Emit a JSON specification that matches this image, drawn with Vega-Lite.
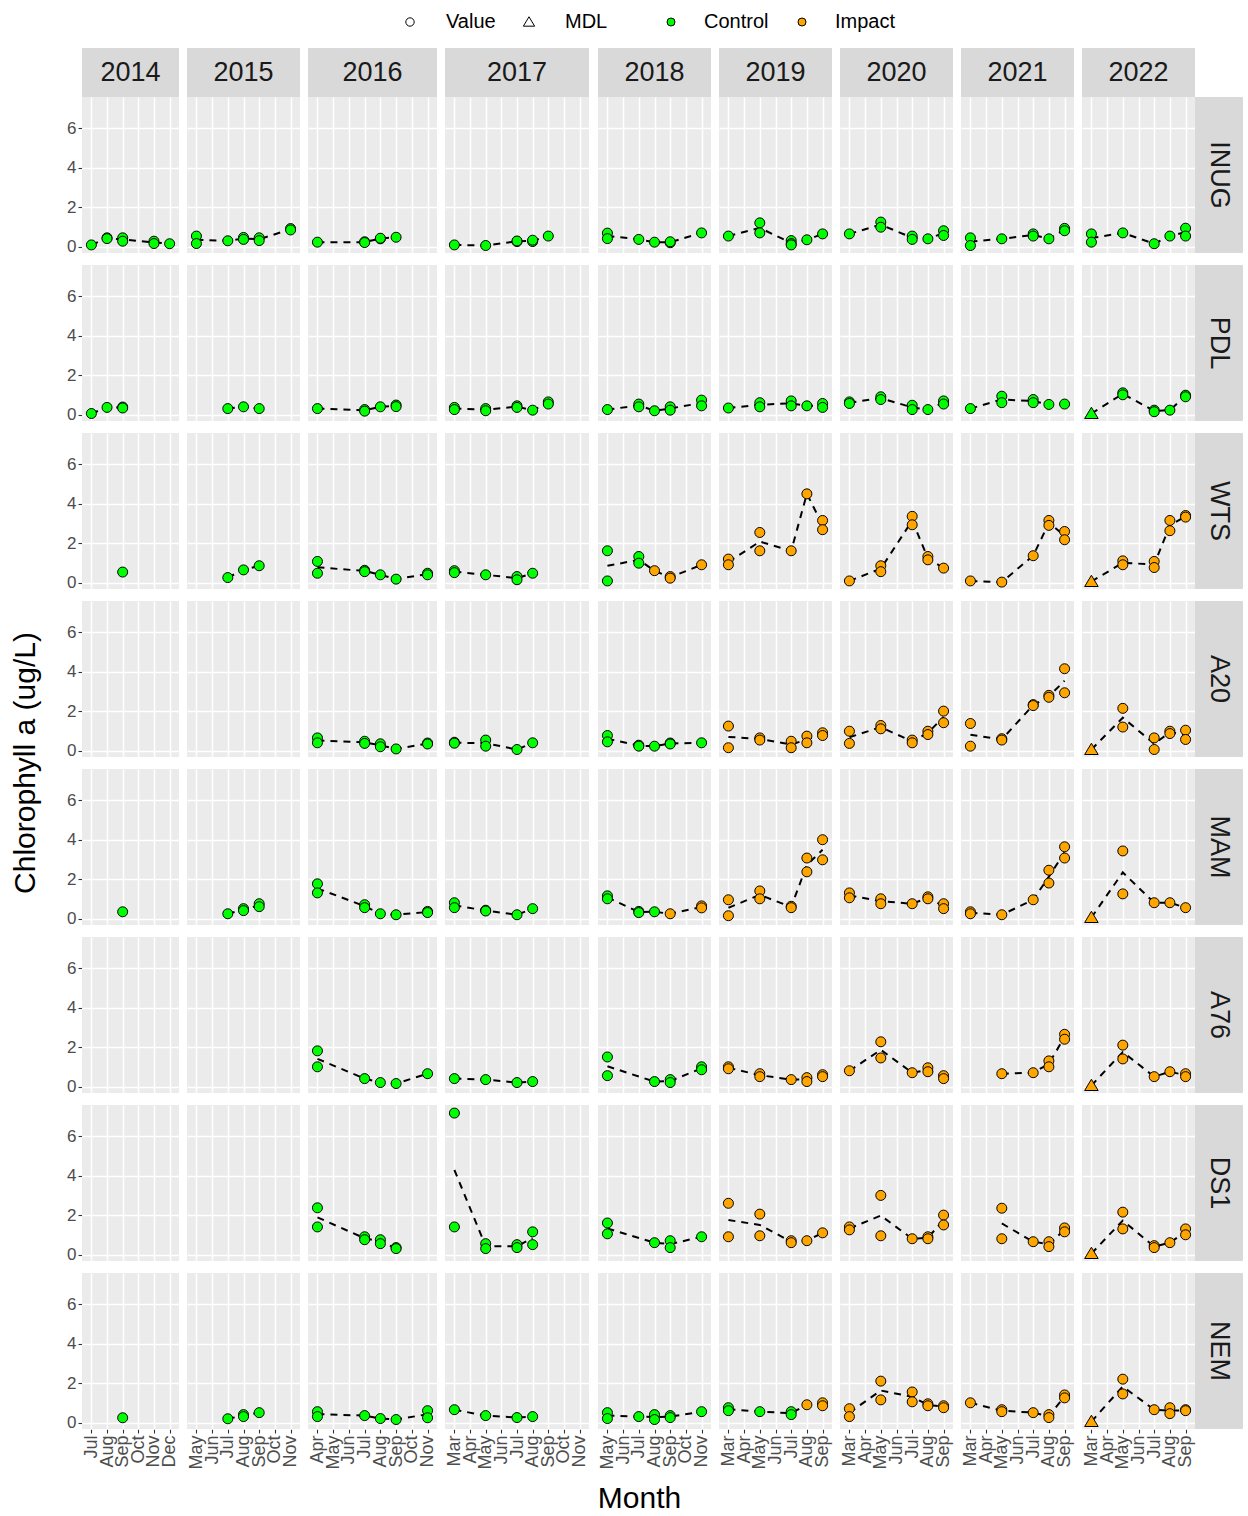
{
"$schema": "https://vega.github.io/schema/vega-lite/v6.json",
"background": "white",
"padding": {"left": 10, "top": 12, "right": 4, "bottom": 2},
"config": {
  "font": "Liberation Sans",
  "view": {"fill": "#EBEBEB", "stroke": null},
  "axis": {"domain": false, "gridColor": "#FFFFFF", "gridWidth": 1.5, "gridOpacity": 1, "tickColor": "#333333", "tickSize": 4, "tickWidth": 1.1, "labelFontSize": 17, "labelColor": "#4D4D4D", "labelPadding": 2},
  "axisX": {"labelFontSize": 18},
  "legend": {"labelFontSize": 20, "labelColor": "black", "symbolStrokeColor": "black", "symbolStrokeWidth": 1, "symbolSize": 64, "direction": "horizontal", "columnPadding": 23, "labelOffset": 26}
},
"datasets": {
"sites": [{"site":"INUG"},{"site":"PDL"},{"site":"WTS"},{"site":"A20"},{"site":"MAM"},{"site":"A76"},{"site":"DS1"},{"site":"NEM"}],
"chl": [
{"site":"INUG","year":2014,"month":7,"chl":0.08,"group":"Control","type":"Value"},
{"site":"INUG","year":2014,"month":8,"chl":0.44,"group":"Control","type":"Value"},
{"site":"INUG","year":2014,"month":8,"chl":0.40,"group":"Control","type":"Value"},
{"site":"INUG","year":2014,"month":9,"chl":0.44,"group":"Control","type":"Value"},
{"site":"INUG","year":2014,"month":9,"chl":0.27,"group":"Control","type":"Value"},
{"site":"INUG","year":2014,"month":11,"chl":0.27,"group":"Control","type":"Value"},
{"site":"INUG","year":2014,"month":11,"chl":0.15,"group":"Control","type":"Value"},
{"site":"INUG","year":2014,"month":12,"chl":0.14,"group":"Control","type":"Value"},
{"site":"INUG","year":2015,"month":5,"chl":0.53,"group":"Control","type":"Value"},
{"site":"INUG","year":2015,"month":5,"chl":0.15,"group":"Control","type":"Value"},
{"site":"INUG","year":2015,"month":7,"chl":0.29,"group":"Control","type":"Value"},
{"site":"INUG","year":2015,"month":8,"chl":0.46,"group":"Control","type":"Value"},
{"site":"INUG","year":2015,"month":8,"chl":0.36,"group":"Control","type":"Value"},
{"site":"INUG","year":2015,"month":9,"chl":0.44,"group":"Control","type":"Value"},
{"site":"INUG","year":2015,"month":9,"chl":0.30,"group":"Control","type":"Value"},
{"site":"INUG","year":2015,"month":11,"chl":0.91,"group":"Control","type":"Value"},
{"site":"INUG","year":2015,"month":11,"chl":0.84,"group":"Control","type":"Value"},
{"site":"INUG","year":2016,"month":4,"chl":0.22,"group":"Control","type":"Value"},
{"site":"INUG","year":2016,"month":7,"chl":0.24,"group":"Control","type":"Value"},
{"site":"INUG","year":2016,"month":7,"chl":0.20,"group":"Control","type":"Value"},
{"site":"INUG","year":2016,"month":8,"chl":0.39,"group":"Control","type":"Value"},
{"site":"INUG","year":2016,"month":8,"chl":0.42,"group":"Control","type":"Value"},
{"site":"INUG","year":2016,"month":9,"chl":0.47,"group":"Control","type":"Value"},
{"site":"INUG","year":2017,"month":3,"chl":0.08,"group":"Control","type":"Value"},
{"site":"INUG","year":2017,"month":5,"chl":0.05,"group":"Control","type":"Value"},
{"site":"INUG","year":2017,"month":7,"chl":0.25,"group":"Control","type":"Value"},
{"site":"INUG","year":2017,"month":7,"chl":0.28,"group":"Control","type":"Value"},
{"site":"INUG","year":2017,"month":8,"chl":0.25,"group":"Control","type":"Value"},
{"site":"INUG","year":2017,"month":8,"chl":0.32,"group":"Control","type":"Value"},
{"site":"INUG","year":2017,"month":9,"chl":0.53,"group":"Control","type":"Value"},
{"site":"INUG","year":2018,"month":5,"chl":0.68,"group":"Control","type":"Value"},
{"site":"INUG","year":2018,"month":5,"chl":0.40,"group":"Control","type":"Value"},
{"site":"INUG","year":2018,"month":7,"chl":0.36,"group":"Control","type":"Value"},
{"site":"INUG","year":2018,"month":8,"chl":0.22,"group":"Control","type":"Value"},
{"site":"INUG","year":2018,"month":9,"chl":0.19,"group":"Control","type":"Value"},
{"site":"INUG","year":2018,"month":9,"chl":0.24,"group":"Control","type":"Value"},
{"site":"INUG","year":2018,"month":11,"chl":0.69,"group":"Control","type":"Value"},
{"site":"INUG","year":2019,"month":3,"chl":0.53,"group":"Control","type":"Value"},
{"site":"INUG","year":2019,"month":5,"chl":1.20,"group":"Control","type":"Value"},
{"site":"INUG","year":2019,"month":5,"chl":0.69,"group":"Control","type":"Value"},
{"site":"INUG","year":2019,"month":7,"chl":0.30,"group":"Control","type":"Value"},
{"site":"INUG","year":2019,"month":7,"chl":0.15,"group":"Control","type":"Value"},
{"site":"INUG","year":2019,"month":7,"chl":0.08,"group":"Control","type":"Value"},
{"site":"INUG","year":2019,"month":8,"chl":0.34,"group":"Control","type":"Value"},
{"site":"INUG","year":2019,"month":9,"chl":0.64,"group":"Control","type":"Value"},
{"site":"INUG","year":2020,"month":3,"chl":0.64,"group":"Control","type":"Value"},
{"site":"INUG","year":2020,"month":5,"chl":1.24,"group":"Control","type":"Value"},
{"site":"INUG","year":2020,"month":5,"chl":0.98,"group":"Control","type":"Value"},
{"site":"INUG","year":2020,"month":7,"chl":0.53,"group":"Control","type":"Value"},
{"site":"INUG","year":2020,"month":7,"chl":0.36,"group":"Control","type":"Value"},
{"site":"INUG","year":2020,"month":8,"chl":0.39,"group":"Control","type":"Value"},
{"site":"INUG","year":2020,"month":9,"chl":0.80,"group":"Control","type":"Value"},
{"site":"INUG","year":2020,"month":9,"chl":0.56,"group":"Control","type":"Value"},
{"site":"INUG","year":2021,"month":3,"chl":0.44,"group":"Control","type":"Value"},
{"site":"INUG","year":2021,"month":3,"chl":0.05,"group":"Control","type":"Value"},
{"site":"INUG","year":2021,"month":5,"chl":0.39,"group":"Control","type":"Value"},
{"site":"INUG","year":2021,"month":7,"chl":0.64,"group":"Control","type":"Value"},
{"site":"INUG","year":2021,"month":7,"chl":0.53,"group":"Control","type":"Value"},
{"site":"INUG","year":2021,"month":8,"chl":0.39,"group":"Control","type":"Value"},
{"site":"INUG","year":2021,"month":9,"chl":0.92,"group":"Control","type":"Value"},
{"site":"INUG","year":2021,"month":9,"chl":0.80,"group":"Control","type":"Value"},
{"site":"INUG","year":2022,"month":3,"chl":0.64,"group":"Control","type":"Value"},
{"site":"INUG","year":2022,"month":3,"chl":0.22,"group":"Control","type":"Value"},
{"site":"INUG","year":2022,"month":5,"chl":0.69,"group":"Control","type":"Value"},
{"site":"INUG","year":2022,"month":7,"chl":0.14,"group":"Control","type":"Value"},
{"site":"INUG","year":2022,"month":8,"chl":0.53,"group":"Control","type":"Value"},
{"site":"INUG","year":2022,"month":9,"chl":0.93,"group":"Control","type":"Value"},
{"site":"INUG","year":2022,"month":9,"chl":0.53,"group":"Control","type":"Value"},
{"site":"PDL","year":2014,"month":7,"chl":0.05,"group":"Control","type":"Value"},
{"site":"PDL","year":2014,"month":8,"chl":0.36,"group":"Control","type":"Value"},
{"site":"PDL","year":2014,"month":9,"chl":0.38,"group":"Control","type":"Value"},
{"site":"PDL","year":2014,"month":9,"chl":0.33,"group":"Control","type":"Value"},
{"site":"PDL","year":2015,"month":7,"chl":0.30,"group":"Control","type":"Value"},
{"site":"PDL","year":2015,"month":8,"chl":0.39,"group":"Control","type":"Value"},
{"site":"PDL","year":2015,"month":9,"chl":0.30,"group":"Control","type":"Value"},
{"site":"PDL","year":2016,"month":4,"chl":0.30,"group":"Control","type":"Value"},
{"site":"PDL","year":2016,"month":7,"chl":0.25,"group":"Control","type":"Value"},
{"site":"PDL","year":2016,"month":7,"chl":0.17,"group":"Control","type":"Value"},
{"site":"PDL","year":2016,"month":8,"chl":0.39,"group":"Control","type":"Value"},
{"site":"PDL","year":2016,"month":9,"chl":0.48,"group":"Control","type":"Value"},
{"site":"PDL","year":2016,"month":9,"chl":0.40,"group":"Control","type":"Value"},
{"site":"PDL","year":2017,"month":3,"chl":0.36,"group":"Control","type":"Value"},
{"site":"PDL","year":2017,"month":3,"chl":0.25,"group":"Control","type":"Value"},
{"site":"PDL","year":2017,"month":5,"chl":0.30,"group":"Control","type":"Value"},
{"site":"PDL","year":2017,"month":5,"chl":0.19,"group":"Control","type":"Value"},
{"site":"PDL","year":2017,"month":7,"chl":0.44,"group":"Control","type":"Value"},
{"site":"PDL","year":2017,"month":7,"chl":0.36,"group":"Control","type":"Value"},
{"site":"PDL","year":2017,"month":8,"chl":0.22,"group":"Control","type":"Value"},
{"site":"PDL","year":2017,"month":9,"chl":0.64,"group":"Control","type":"Value"},
{"site":"PDL","year":2017,"month":9,"chl":0.53,"group":"Control","type":"Value"},
{"site":"PDL","year":2018,"month":5,"chl":0.25,"group":"Control","type":"Value"},
{"site":"PDL","year":2018,"month":7,"chl":0.53,"group":"Control","type":"Value"},
{"site":"PDL","year":2018,"month":7,"chl":0.39,"group":"Control","type":"Value"},
{"site":"PDL","year":2018,"month":8,"chl":0.19,"group":"Control","type":"Value"},
{"site":"PDL","year":2018,"month":9,"chl":0.39,"group":"Control","type":"Value"},
{"site":"PDL","year":2018,"month":9,"chl":0.22,"group":"Control","type":"Value"},
{"site":"PDL","year":2018,"month":11,"chl":0.73,"group":"Control","type":"Value"},
{"site":"PDL","year":2018,"month":11,"chl":0.44,"group":"Control","type":"Value"},
{"site":"PDL","year":2019,"month":3,"chl":0.33,"group":"Control","type":"Value"},
{"site":"PDL","year":2019,"month":5,"chl":0.60,"group":"Control","type":"Value"},
{"site":"PDL","year":2019,"month":5,"chl":0.39,"group":"Control","type":"Value"},
{"site":"PDL","year":2019,"month":7,"chl":0.69,"group":"Control","type":"Value"},
{"site":"PDL","year":2019,"month":7,"chl":0.44,"group":"Control","type":"Value"},
{"site":"PDL","year":2019,"month":8,"chl":0.44,"group":"Control","type":"Value"},
{"site":"PDL","year":2019,"month":9,"chl":0.56,"group":"Control","type":"Value"},
{"site":"PDL","year":2019,"month":9,"chl":0.36,"group":"Control","type":"Value"},
{"site":"PDL","year":2020,"month":3,"chl":0.64,"group":"Control","type":"Value"},
{"site":"PDL","year":2020,"month":3,"chl":0.56,"group":"Control","type":"Value"},
{"site":"PDL","year":2020,"month":5,"chl":0.90,"group":"Control","type":"Value"},
{"site":"PDL","year":2020,"month":5,"chl":0.76,"group":"Control","type":"Value"},
{"site":"PDL","year":2020,"month":7,"chl":0.47,"group":"Control","type":"Value"},
{"site":"PDL","year":2020,"month":7,"chl":0.25,"group":"Control","type":"Value"},
{"site":"PDL","year":2020,"month":8,"chl":0.25,"group":"Control","type":"Value"},
{"site":"PDL","year":2020,"month":9,"chl":0.69,"group":"Control","type":"Value"},
{"site":"PDL","year":2020,"month":9,"chl":0.53,"group":"Control","type":"Value"},
{"site":"PDL","year":2021,"month":3,"chl":0.30,"group":"Control","type":"Value"},
{"site":"PDL","year":2021,"month":5,"chl":0.93,"group":"Control","type":"Value"},
{"site":"PDL","year":2021,"month":5,"chl":0.60,"group":"Control","type":"Value"},
{"site":"PDL","year":2021,"month":7,"chl":0.76,"group":"Control","type":"Value"},
{"site":"PDL","year":2021,"month":7,"chl":0.60,"group":"Control","type":"Value"},
{"site":"PDL","year":2021,"month":8,"chl":0.51,"group":"Control","type":"Value"},
{"site":"PDL","year":2021,"month":9,"chl":0.53,"group":"Control","type":"Value"},
{"site":"PDL","year":2022,"month":3,"chl":0.05,"group":"Control","type":"MDL"},
{"site":"PDL","year":2022,"month":5,"chl":1.10,"group":"Control","type":"Value"},
{"site":"PDL","year":2022,"month":5,"chl":1.00,"group":"Control","type":"Value"},
{"site":"PDL","year":2022,"month":7,"chl":0.22,"group":"Control","type":"Value"},
{"site":"PDL","year":2022,"month":7,"chl":0.14,"group":"Control","type":"Value"},
{"site":"PDL","year":2022,"month":8,"chl":0.22,"group":"Control","type":"Value"},
{"site":"PDL","year":2022,"month":9,"chl":0.98,"group":"Control","type":"Value"},
{"site":"PDL","year":2022,"month":9,"chl":0.90,"group":"Control","type":"Value"},
{"site":"WTS","year":2014,"month":9,"chl":0.53,"group":"Control","type":"Value"},
{"site":"WTS","year":2015,"month":7,"chl":0.25,"group":"Control","type":"Value"},
{"site":"WTS","year":2015,"month":8,"chl":0.64,"group":"Control","type":"Value"},
{"site":"WTS","year":2015,"month":9,"chl":0.85,"group":"Control","type":"Value"},
{"site":"WTS","year":2016,"month":4,"chl":1.07,"group":"Control","type":"Value"},
{"site":"WTS","year":2016,"month":4,"chl":0.47,"group":"Control","type":"Value"},
{"site":"WTS","year":2016,"month":7,"chl":0.62,"group":"Control","type":"Value"},
{"site":"WTS","year":2016,"month":7,"chl":0.55,"group":"Control","type":"Value"},
{"site":"WTS","year":2016,"month":8,"chl":0.39,"group":"Control","type":"Value"},
{"site":"WTS","year":2016,"month":9,"chl":0.17,"group":"Control","type":"Value"},
{"site":"WTS","year":2016,"month":11,"chl":0.47,"group":"Control","type":"Value"},
{"site":"WTS","year":2016,"month":11,"chl":0.39,"group":"Control","type":"Value"},
{"site":"WTS","year":2017,"month":3,"chl":0.60,"group":"Control","type":"Value"},
{"site":"WTS","year":2017,"month":3,"chl":0.50,"group":"Control","type":"Value"},
{"site":"WTS","year":2017,"month":5,"chl":0.39,"group":"Control","type":"Value"},
{"site":"WTS","year":2017,"month":7,"chl":0.30,"group":"Control","type":"Value"},
{"site":"WTS","year":2017,"month":7,"chl":0.14,"group":"Control","type":"Value"},
{"site":"WTS","year":2017,"month":8,"chl":0.47,"group":"Control","type":"Value"},
{"site":"WTS","year":2018,"month":5,"chl":1.61,"group":"Control","type":"Value"},
{"site":"WTS","year":2018,"month":5,"chl":0.08,"group":"Control","type":"Value"},
{"site":"WTS","year":2018,"month":7,"chl":1.32,"group":"Control","type":"Value"},
{"site":"WTS","year":2018,"month":7,"chl":0.98,"group":"Control","type":"Value"},
{"site":"WTS","year":2018,"month":8,"chl":0.60,"group":"Impact","type":"Value"},
{"site":"WTS","year":2018,"month":9,"chl":0.30,"group":"Impact","type":"Value"},
{"site":"WTS","year":2018,"month":9,"chl":0.22,"group":"Impact","type":"Value"},
{"site":"WTS","year":2018,"month":11,"chl":0.90,"group":"Impact","type":"Value"},
{"site":"WTS","year":2019,"month":3,"chl":1.19,"group":"Impact","type":"Value"},
{"site":"WTS","year":2019,"month":3,"chl":0.90,"group":"Impact","type":"Value"},
{"site":"WTS","year":2019,"month":5,"chl":2.54,"group":"Impact","type":"Value"},
{"site":"WTS","year":2019,"month":5,"chl":1.61,"group":"Impact","type":"Value"},
{"site":"WTS","year":2019,"month":7,"chl":1.61,"group":"Impact","type":"Value"},
{"site":"WTS","year":2019,"month":8,"chl":4.50,"group":"Impact","type":"Value"},
{"site":"WTS","year":2019,"month":9,"chl":3.15,"group":"Impact","type":"Value"},
{"site":"WTS","year":2019,"month":9,"chl":2.68,"group":"Impact","type":"Value"},
{"site":"WTS","year":2020,"month":3,"chl":0.08,"group":"Impact","type":"Value"},
{"site":"WTS","year":2020,"month":5,"chl":0.85,"group":"Impact","type":"Value"},
{"site":"WTS","year":2020,"month":5,"chl":0.55,"group":"Impact","type":"Value"},
{"site":"WTS","year":2020,"month":7,"chl":3.36,"group":"Impact","type":"Value"},
{"site":"WTS","year":2020,"month":7,"chl":2.93,"group":"Impact","type":"Value"},
{"site":"WTS","year":2020,"month":8,"chl":1.32,"group":"Impact","type":"Value"},
{"site":"WTS","year":2020,"month":8,"chl":1.15,"group":"Impact","type":"Value"},
{"site":"WTS","year":2020,"month":9,"chl":0.73,"group":"Impact","type":"Value"},
{"site":"WTS","year":2021,"month":3,"chl":0.08,"group":"Impact","type":"Value"},
{"site":"WTS","year":2021,"month":5,"chl":0.02,"group":"Impact","type":"Value"},
{"site":"WTS","year":2021,"month":7,"chl":1.36,"group":"Impact","type":"Value"},
{"site":"WTS","year":2021,"month":8,"chl":3.15,"group":"Impact","type":"Value"},
{"site":"WTS","year":2021,"month":8,"chl":2.90,"group":"Impact","type":"Value"},
{"site":"WTS","year":2021,"month":9,"chl":2.59,"group":"Impact","type":"Value"},
{"site":"WTS","year":2021,"month":9,"chl":2.17,"group":"Impact","type":"Value"},
{"site":"WTS","year":2022,"month":3,"chl":0.05,"group":"Impact","type":"MDL"},
{"site":"WTS","year":2022,"month":5,"chl":1.10,"group":"Impact","type":"Value"},
{"site":"WTS","year":2022,"month":5,"chl":0.90,"group":"Impact","type":"Value"},
{"site":"WTS","year":2022,"month":7,"chl":1.07,"group":"Impact","type":"Value"},
{"site":"WTS","year":2022,"month":7,"chl":0.76,"group":"Impact","type":"Value"},
{"site":"WTS","year":2022,"month":8,"chl":3.15,"group":"Impact","type":"Value"},
{"site":"WTS","year":2022,"month":8,"chl":2.63,"group":"Impact","type":"Value"},
{"site":"WTS","year":2022,"month":9,"chl":3.40,"group":"Impact","type":"Value"},
{"site":"WTS","year":2022,"month":9,"chl":3.32,"group":"Impact","type":"Value"},
{"site":"A20","year":2016,"month":4,"chl":0.64,"group":"Control","type":"Value"},
{"site":"A20","year":2016,"month":4,"chl":0.39,"group":"Control","type":"Value"},
{"site":"A20","year":2016,"month":7,"chl":0.47,"group":"Control","type":"Value"},
{"site":"A20","year":2016,"month":7,"chl":0.36,"group":"Control","type":"Value"},
{"site":"A20","year":2016,"month":8,"chl":0.34,"group":"Control","type":"Value"},
{"site":"A20","year":2016,"month":8,"chl":0.19,"group":"Control","type":"Value"},
{"site":"A20","year":2016,"month":9,"chl":0.08,"group":"Control","type":"Value"},
{"site":"A20","year":2016,"month":11,"chl":0.38,"group":"Control","type":"Value"},
{"site":"A20","year":2016,"month":11,"chl":0.33,"group":"Control","type":"Value"},
{"site":"A20","year":2017,"month":3,"chl":0.42,"group":"Control","type":"Value"},
{"site":"A20","year":2017,"month":3,"chl":0.37,"group":"Control","type":"Value"},
{"site":"A20","year":2017,"month":5,"chl":0.53,"group":"Control","type":"Value"},
{"site":"A20","year":2017,"month":5,"chl":0.22,"group":"Control","type":"Value"},
{"site":"A20","year":2017,"month":7,"chl":0.05,"group":"Control","type":"Value"},
{"site":"A20","year":2017,"month":8,"chl":0.39,"group":"Control","type":"Value"},
{"site":"A20","year":2018,"month":5,"chl":0.76,"group":"Control","type":"Value"},
{"site":"A20","year":2018,"month":5,"chl":0.44,"group":"Control","type":"Value"},
{"site":"A20","year":2018,"month":7,"chl":0.27,"group":"Control","type":"Value"},
{"site":"A20","year":2018,"month":7,"chl":0.22,"group":"Control","type":"Value"},
{"site":"A20","year":2018,"month":8,"chl":0.22,"group":"Control","type":"Value"},
{"site":"A20","year":2018,"month":9,"chl":0.38,"group":"Control","type":"Value"},
{"site":"A20","year":2018,"month":9,"chl":0.33,"group":"Control","type":"Value"},
{"site":"A20","year":2018,"month":11,"chl":0.39,"group":"Control","type":"Value"},
{"site":"A20","year":2019,"month":3,"chl":1.24,"group":"Impact","type":"Value"},
{"site":"A20","year":2019,"month":3,"chl":0.14,"group":"Impact","type":"Value"},
{"site":"A20","year":2019,"month":5,"chl":0.64,"group":"Impact","type":"Value"},
{"site":"A20","year":2019,"month":5,"chl":0.53,"group":"Impact","type":"Value"},
{"site":"A20","year":2019,"month":7,"chl":0.47,"group":"Impact","type":"Value"},
{"site":"A20","year":2019,"month":7,"chl":0.14,"group":"Impact","type":"Value"},
{"site":"A20","year":2019,"month":8,"chl":0.73,"group":"Impact","type":"Value"},
{"site":"A20","year":2019,"month":8,"chl":0.39,"group":"Impact","type":"Value"},
{"site":"A20","year":2019,"month":9,"chl":0.90,"group":"Impact","type":"Value"},
{"site":"A20","year":2019,"month":9,"chl":0.76,"group":"Impact","type":"Value"},
{"site":"A20","year":2020,"month":3,"chl":0.98,"group":"Impact","type":"Value"},
{"site":"A20","year":2020,"month":3,"chl":0.36,"group":"Impact","type":"Value"},
{"site":"A20","year":2020,"month":5,"chl":1.27,"group":"Impact","type":"Value"},
{"site":"A20","year":2020,"month":5,"chl":1.10,"group":"Impact","type":"Value"},
{"site":"A20","year":2020,"month":7,"chl":0.53,"group":"Impact","type":"Value"},
{"site":"A20","year":2020,"month":7,"chl":0.39,"group":"Impact","type":"Value"},
{"site":"A20","year":2020,"month":8,"chl":0.98,"group":"Impact","type":"Value"},
{"site":"A20","year":2020,"month":8,"chl":0.81,"group":"Impact","type":"Value"},
{"site":"A20","year":2020,"month":9,"chl":2.00,"group":"Impact","type":"Value"},
{"site":"A20","year":2020,"month":9,"chl":1.41,"group":"Impact","type":"Value"},
{"site":"A20","year":2021,"month":3,"chl":1.37,"group":"Impact","type":"Value"},
{"site":"A20","year":2021,"month":3,"chl":0.22,"group":"Impact","type":"Value"},
{"site":"A20","year":2021,"month":5,"chl":0.60,"group":"Impact","type":"Value"},
{"site":"A20","year":2021,"month":5,"chl":0.53,"group":"Impact","type":"Value"},
{"site":"A20","year":2021,"month":7,"chl":2.33,"group":"Impact","type":"Value"},
{"site":"A20","year":2021,"month":7,"chl":2.28,"group":"Impact","type":"Value"},
{"site":"A20","year":2021,"month":8,"chl":2.80,"group":"Impact","type":"Value"},
{"site":"A20","year":2021,"month":8,"chl":2.70,"group":"Impact","type":"Value"},
{"site":"A20","year":2021,"month":9,"chl":4.15,"group":"Impact","type":"Value"},
{"site":"A20","year":2021,"month":9,"chl":2.93,"group":"Impact","type":"Value"},
{"site":"A20","year":2022,"month":3,"chl":0.05,"group":"Impact","type":"MDL"},
{"site":"A20","year":2022,"month":5,"chl":2.14,"group":"Impact","type":"Value"},
{"site":"A20","year":2022,"month":5,"chl":1.19,"group":"Impact","type":"Value"},
{"site":"A20","year":2022,"month":7,"chl":0.64,"group":"Impact","type":"Value"},
{"site":"A20","year":2022,"month":7,"chl":0.05,"group":"Impact","type":"Value"},
{"site":"A20","year":2022,"month":8,"chl":0.98,"group":"Impact","type":"Value"},
{"site":"A20","year":2022,"month":8,"chl":0.86,"group":"Impact","type":"Value"},
{"site":"A20","year":2022,"month":9,"chl":1.03,"group":"Impact","type":"Value"},
{"site":"A20","year":2022,"month":9,"chl":0.56,"group":"Impact","type":"Value"},
{"site":"MAM","year":2014,"month":9,"chl":0.34,"group":"Control","type":"Value"},
{"site":"MAM","year":2015,"month":7,"chl":0.24,"group":"Control","type":"Value"},
{"site":"MAM","year":2015,"month":8,"chl":0.50,"group":"Control","type":"Value"},
{"site":"MAM","year":2015,"month":8,"chl":0.40,"group":"Control","type":"Value"},
{"site":"MAM","year":2015,"month":9,"chl":0.75,"group":"Control","type":"Value"},
{"site":"MAM","year":2015,"month":9,"chl":0.60,"group":"Control","type":"Value"},
{"site":"MAM","year":2016,"month":4,"chl":1.76,"group":"Control","type":"Value"},
{"site":"MAM","year":2016,"month":4,"chl":1.30,"group":"Control","type":"Value"},
{"site":"MAM","year":2016,"month":7,"chl":0.70,"group":"Control","type":"Value"},
{"site":"MAM","year":2016,"month":7,"chl":0.55,"group":"Control","type":"Value"},
{"site":"MAM","year":2016,"month":8,"chl":0.24,"group":"Control","type":"Value"},
{"site":"MAM","year":2016,"month":9,"chl":0.19,"group":"Control","type":"Value"},
{"site":"MAM","year":2016,"month":11,"chl":0.36,"group":"Control","type":"Value"},
{"site":"MAM","year":2016,"month":11,"chl":0.30,"group":"Control","type":"Value"},
{"site":"MAM","year":2017,"month":3,"chl":0.80,"group":"Control","type":"Value"},
{"site":"MAM","year":2017,"month":3,"chl":0.55,"group":"Control","type":"Value"},
{"site":"MAM","year":2017,"month":5,"chl":0.42,"group":"Control","type":"Value"},
{"site":"MAM","year":2017,"month":5,"chl":0.38,"group":"Control","type":"Value"},
{"site":"MAM","year":2017,"month":7,"chl":0.19,"group":"Control","type":"Value"},
{"site":"MAM","year":2017,"month":8,"chl":0.50,"group":"Control","type":"Value"},
{"site":"MAM","year":2018,"month":5,"chl":1.15,"group":"Control","type":"Value"},
{"site":"MAM","year":2018,"month":5,"chl":1.00,"group":"Control","type":"Value"},
{"site":"MAM","year":2018,"month":7,"chl":0.36,"group":"Control","type":"Value"},
{"site":"MAM","year":2018,"month":7,"chl":0.30,"group":"Control","type":"Value"},
{"site":"MAM","year":2018,"month":8,"chl":0.34,"group":"Control","type":"Value"},
{"site":"MAM","year":2018,"month":9,"chl":0.24,"group":"Impact","type":"Value"},
{"site":"MAM","year":2018,"month":11,"chl":0.64,"group":"Impact","type":"Value"},
{"site":"MAM","year":2018,"month":11,"chl":0.54,"group":"Impact","type":"Value"},
{"site":"MAM","year":2019,"month":3,"chl":0.95,"group":"Impact","type":"Value"},
{"site":"MAM","year":2019,"month":3,"chl":0.14,"group":"Impact","type":"Value"},
{"site":"MAM","year":2019,"month":5,"chl":1.40,"group":"Impact","type":"Value"},
{"site":"MAM","year":2019,"month":5,"chl":1.00,"group":"Impact","type":"Value"},
{"site":"MAM","year":2019,"month":7,"chl":0.62,"group":"Impact","type":"Value"},
{"site":"MAM","year":2019,"month":7,"chl":0.55,"group":"Impact","type":"Value"},
{"site":"MAM","year":2019,"month":8,"chl":3.07,"group":"Impact","type":"Value"},
{"site":"MAM","year":2019,"month":8,"chl":2.37,"group":"Impact","type":"Value"},
{"site":"MAM","year":2019,"month":9,"chl":4.00,"group":"Impact","type":"Value"},
{"site":"MAM","year":2019,"month":9,"chl":2.98,"group":"Impact","type":"Value"},
{"site":"MAM","year":2020,"month":3,"chl":1.30,"group":"Impact","type":"Value"},
{"site":"MAM","year":2020,"month":3,"chl":1.05,"group":"Impact","type":"Value"},
{"site":"MAM","year":2020,"month":5,"chl":1.00,"group":"Impact","type":"Value"},
{"site":"MAM","year":2020,"month":5,"chl":0.75,"group":"Impact","type":"Value"},
{"site":"MAM","year":2020,"month":7,"chl":0.75,"group":"Impact","type":"Value"},
{"site":"MAM","year":2020,"month":8,"chl":1.10,"group":"Impact","type":"Value"},
{"site":"MAM","year":2020,"month":8,"chl":1.00,"group":"Impact","type":"Value"},
{"site":"MAM","year":2020,"month":9,"chl":0.75,"group":"Impact","type":"Value"},
{"site":"MAM","year":2020,"month":9,"chl":0.50,"group":"Impact","type":"Value"},
{"site":"MAM","year":2021,"month":3,"chl":0.34,"group":"Impact","type":"Value"},
{"site":"MAM","year":2021,"month":3,"chl":0.24,"group":"Impact","type":"Value"},
{"site":"MAM","year":2021,"month":5,"chl":0.19,"group":"Impact","type":"Value"},
{"site":"MAM","year":2021,"month":7,"chl":0.95,"group":"Impact","type":"Value"},
{"site":"MAM","year":2021,"month":8,"chl":2.45,"group":"Impact","type":"Value"},
{"site":"MAM","year":2021,"month":8,"chl":1.80,"group":"Impact","type":"Value"},
{"site":"MAM","year":2021,"month":9,"chl":3.64,"group":"Impact","type":"Value"},
{"site":"MAM","year":2021,"month":9,"chl":3.07,"group":"Impact","type":"Value"},
{"site":"MAM","year":2022,"month":3,"chl":0.05,"group":"Impact","type":"MDL"},
{"site":"MAM","year":2022,"month":5,"chl":3.43,"group":"Impact","type":"Value"},
{"site":"MAM","year":2022,"month":5,"chl":1.25,"group":"Impact","type":"Value"},
{"site":"MAM","year":2022,"month":7,"chl":0.80,"group":"Impact","type":"Value"},
{"site":"MAM","year":2022,"month":8,"chl":0.80,"group":"Impact","type":"Value"},
{"site":"MAM","year":2022,"month":9,"chl":0.55,"group":"Impact","type":"Value"},
{"site":"A76","year":2016,"month":4,"chl":1.81,"group":"Control","type":"Value"},
{"site":"A76","year":2016,"month":4,"chl":1.00,"group":"Control","type":"Value"},
{"site":"A76","year":2016,"month":7,"chl":0.40,"group":"Control","type":"Value"},
{"site":"A76","year":2016,"month":8,"chl":0.20,"group":"Control","type":"Value"},
{"site":"A76","year":2016,"month":9,"chl":0.15,"group":"Control","type":"Value"},
{"site":"A76","year":2016,"month":11,"chl":0.65,"group":"Control","type":"Value"},
{"site":"A76","year":2017,"month":3,"chl":0.40,"group":"Control","type":"Value"},
{"site":"A76","year":2017,"month":5,"chl":0.35,"group":"Control","type":"Value"},
{"site":"A76","year":2017,"month":7,"chl":0.20,"group":"Control","type":"Value"},
{"site":"A76","year":2017,"month":8,"chl":0.25,"group":"Control","type":"Value"},
{"site":"A76","year":2018,"month":5,"chl":1.50,"group":"Control","type":"Value"},
{"site":"A76","year":2018,"month":5,"chl":0.55,"group":"Control","type":"Value"},
{"site":"A76","year":2018,"month":8,"chl":0.25,"group":"Control","type":"Value"},
{"site":"A76","year":2018,"month":9,"chl":0.35,"group":"Control","type":"Value"},
{"site":"A76","year":2018,"month":9,"chl":0.20,"group":"Control","type":"Value"},
{"site":"A76","year":2018,"month":11,"chl":1.00,"group":"Control","type":"Value"},
{"site":"A76","year":2018,"month":11,"chl":0.85,"group":"Control","type":"Value"},
{"site":"A76","year":2019,"month":3,"chl":1.00,"group":"Impact","type":"Value"},
{"site":"A76","year":2019,"month":3,"chl":0.90,"group":"Impact","type":"Value"},
{"site":"A76","year":2019,"month":5,"chl":0.65,"group":"Impact","type":"Value"},
{"site":"A76","year":2019,"month":5,"chl":0.50,"group":"Impact","type":"Value"},
{"site":"A76","year":2019,"month":7,"chl":0.35,"group":"Impact","type":"Value"},
{"site":"A76","year":2019,"month":8,"chl":0.45,"group":"Impact","type":"Value"},
{"site":"A76","year":2019,"month":8,"chl":0.25,"group":"Impact","type":"Value"},
{"site":"A76","year":2019,"month":9,"chl":0.60,"group":"Impact","type":"Value"},
{"site":"A76","year":2019,"month":9,"chl":0.50,"group":"Impact","type":"Value"},
{"site":"A76","year":2020,"month":3,"chl":0.80,"group":"Impact","type":"Value"},
{"site":"A76","year":2020,"month":5,"chl":2.27,"group":"Impact","type":"Value"},
{"site":"A76","year":2020,"month":5,"chl":1.45,"group":"Impact","type":"Value"},
{"site":"A76","year":2020,"month":7,"chl":0.70,"group":"Impact","type":"Value"},
{"site":"A76","year":2020,"month":8,"chl":0.95,"group":"Impact","type":"Value"},
{"site":"A76","year":2020,"month":8,"chl":0.75,"group":"Impact","type":"Value"},
{"site":"A76","year":2020,"month":9,"chl":0.55,"group":"Impact","type":"Value"},
{"site":"A76","year":2020,"month":9,"chl":0.40,"group":"Impact","type":"Value"},
{"site":"A76","year":2021,"month":5,"chl":0.65,"group":"Impact","type":"Value"},
{"site":"A76","year":2021,"month":7,"chl":0.70,"group":"Impact","type":"Value"},
{"site":"A76","year":2021,"month":8,"chl":1.30,"group":"Impact","type":"Value"},
{"site":"A76","year":2021,"month":8,"chl":1.00,"group":"Impact","type":"Value"},
{"site":"A76","year":2021,"month":9,"chl":2.65,"group":"Impact","type":"Value"},
{"site":"A76","year":2021,"month":9,"chl":2.40,"group":"Impact","type":"Value"},
{"site":"A76","year":2022,"month":3,"chl":0.05,"group":"Impact","type":"MDL"},
{"site":"A76","year":2022,"month":5,"chl":2.10,"group":"Impact","type":"Value"},
{"site":"A76","year":2022,"month":5,"chl":1.40,"group":"Impact","type":"Value"},
{"site":"A76","year":2022,"month":7,"chl":0.50,"group":"Impact","type":"Value"},
{"site":"A76","year":2022,"month":8,"chl":0.75,"group":"Impact","type":"Value"},
{"site":"A76","year":2022,"month":9,"chl":0.65,"group":"Impact","type":"Value"},
{"site":"A76","year":2022,"month":9,"chl":0.50,"group":"Impact","type":"Value"},
{"site":"DS1","year":2016,"month":4,"chl":2.37,"group":"Control","type":"Value"},
{"site":"DS1","year":2016,"month":4,"chl":1.40,"group":"Control","type":"Value"},
{"site":"DS1","year":2016,"month":7,"chl":0.90,"group":"Control","type":"Value"},
{"site":"DS1","year":2016,"month":7,"chl":0.75,"group":"Control","type":"Value"},
{"site":"DS1","year":2016,"month":8,"chl":0.75,"group":"Control","type":"Value"},
{"site":"DS1","year":2016,"month":8,"chl":0.55,"group":"Control","type":"Value"},
{"site":"DS1","year":2016,"month":9,"chl":0.35,"group":"Control","type":"Value"},
{"site":"DS1","year":2016,"month":9,"chl":0.30,"group":"Control","type":"Value"},
{"site":"DS1","year":2017,"month":3,"chl":7.18,"group":"Control","type":"Value"},
{"site":"DS1","year":2017,"month":3,"chl":1.40,"group":"Control","type":"Value"},
{"site":"DS1","year":2017,"month":5,"chl":0.55,"group":"Control","type":"Value"},
{"site":"DS1","year":2017,"month":5,"chl":0.30,"group":"Control","type":"Value"},
{"site":"DS1","year":2017,"month":7,"chl":0.50,"group":"Control","type":"Value"},
{"site":"DS1","year":2017,"month":7,"chl":0.35,"group":"Control","type":"Value"},
{"site":"DS1","year":2017,"month":8,"chl":1.15,"group":"Control","type":"Value"},
{"site":"DS1","year":2017,"month":8,"chl":0.50,"group":"Control","type":"Value"},
{"site":"DS1","year":2018,"month":5,"chl":1.60,"group":"Control","type":"Value"},
{"site":"DS1","year":2018,"month":5,"chl":1.05,"group":"Control","type":"Value"},
{"site":"DS1","year":2018,"month":8,"chl":0.60,"group":"Control","type":"Value"},
{"site":"DS1","year":2018,"month":9,"chl":0.70,"group":"Control","type":"Value"},
{"site":"DS1","year":2018,"month":9,"chl":0.35,"group":"Control","type":"Value"},
{"site":"DS1","year":2018,"month":11,"chl":0.90,"group":"Control","type":"Value"},
{"site":"DS1","year":2019,"month":3,"chl":2.60,"group":"Impact","type":"Value"},
{"site":"DS1","year":2019,"month":3,"chl":0.90,"group":"Impact","type":"Value"},
{"site":"DS1","year":2019,"month":5,"chl":2.05,"group":"Impact","type":"Value"},
{"site":"DS1","year":2019,"month":5,"chl":0.95,"group":"Impact","type":"Value"},
{"site":"DS1","year":2019,"month":7,"chl":0.70,"group":"Impact","type":"Value"},
{"site":"DS1","year":2019,"month":7,"chl":0.60,"group":"Impact","type":"Value"},
{"site":"DS1","year":2019,"month":8,"chl":0.70,"group":"Impact","type":"Value"},
{"site":"DS1","year":2019,"month":9,"chl":1.10,"group":"Impact","type":"Value"},
{"site":"DS1","year":2020,"month":3,"chl":1.40,"group":"Impact","type":"Value"},
{"site":"DS1","year":2020,"month":3,"chl":1.25,"group":"Impact","type":"Value"},
{"site":"DS1","year":2020,"month":5,"chl":3.00,"group":"Impact","type":"Value"},
{"site":"DS1","year":2020,"month":5,"chl":0.95,"group":"Impact","type":"Value"},
{"site":"DS1","year":2020,"month":7,"chl":0.80,"group":"Impact","type":"Value"},
{"site":"DS1","year":2020,"month":8,"chl":0.90,"group":"Impact","type":"Value"},
{"site":"DS1","year":2020,"month":8,"chl":0.80,"group":"Impact","type":"Value"},
{"site":"DS1","year":2020,"month":9,"chl":2.00,"group":"Impact","type":"Value"},
{"site":"DS1","year":2020,"month":9,"chl":1.50,"group":"Impact","type":"Value"},
{"site":"DS1","year":2021,"month":5,"chl":2.35,"group":"Impact","type":"Value"},
{"site":"DS1","year":2021,"month":5,"chl":0.80,"group":"Impact","type":"Value"},
{"site":"DS1","year":2021,"month":7,"chl":0.65,"group":"Impact","type":"Value"},
{"site":"DS1","year":2021,"month":8,"chl":0.65,"group":"Impact","type":"Value"},
{"site":"DS1","year":2021,"month":8,"chl":0.40,"group":"Impact","type":"Value"},
{"site":"DS1","year":2021,"month":9,"chl":1.35,"group":"Impact","type":"Value"},
{"site":"DS1","year":2021,"month":9,"chl":1.15,"group":"Impact","type":"Value"},
{"site":"DS1","year":2022,"month":3,"chl":0.05,"group":"Impact","type":"MDL"},
{"site":"DS1","year":2022,"month":5,"chl":2.15,"group":"Impact","type":"Value"},
{"site":"DS1","year":2022,"month":5,"chl":1.30,"group":"Impact","type":"Value"},
{"site":"DS1","year":2022,"month":7,"chl":0.45,"group":"Impact","type":"Value"},
{"site":"DS1","year":2022,"month":7,"chl":0.35,"group":"Impact","type":"Value"},
{"site":"DS1","year":2022,"month":8,"chl":0.60,"group":"Impact","type":"Value"},
{"site":"DS1","year":2022,"month":9,"chl":1.30,"group":"Impact","type":"Value"},
{"site":"DS1","year":2022,"month":9,"chl":1.00,"group":"Impact","type":"Value"},
{"site":"NEM","year":2014,"month":9,"chl":0.24,"group":"Control","type":"Value"},
{"site":"NEM","year":2015,"month":7,"chl":0.19,"group":"Control","type":"Value"},
{"site":"NEM","year":2015,"month":8,"chl":0.40,"group":"Control","type":"Value"},
{"site":"NEM","year":2015,"month":8,"chl":0.30,"group":"Control","type":"Value"},
{"site":"NEM","year":2015,"month":9,"chl":0.50,"group":"Control","type":"Value"},
{"site":"NEM","year":2016,"month":4,"chl":0.55,"group":"Control","type":"Value"},
{"site":"NEM","year":2016,"month":4,"chl":0.30,"group":"Control","type":"Value"},
{"site":"NEM","year":2016,"month":7,"chl":0.35,"group":"Control","type":"Value"},
{"site":"NEM","year":2016,"month":8,"chl":0.20,"group":"Control","type":"Value"},
{"site":"NEM","year":2016,"month":9,"chl":0.15,"group":"Control","type":"Value"},
{"site":"NEM","year":2016,"month":11,"chl":0.60,"group":"Control","type":"Value"},
{"site":"NEM","year":2016,"month":11,"chl":0.24,"group":"Control","type":"Value"},
{"site":"NEM","year":2017,"month":3,"chl":0.65,"group":"Control","type":"Value"},
{"site":"NEM","year":2017,"month":5,"chl":0.35,"group":"Control","type":"Value"},
{"site":"NEM","year":2017,"month":7,"chl":0.25,"group":"Control","type":"Value"},
{"site":"NEM","year":2017,"month":8,"chl":0.30,"group":"Control","type":"Value"},
{"site":"NEM","year":2018,"month":5,"chl":0.50,"group":"Control","type":"Value"},
{"site":"NEM","year":2018,"month":5,"chl":0.20,"group":"Control","type":"Value"},
{"site":"NEM","year":2018,"month":7,"chl":0.30,"group":"Control","type":"Value"},
{"site":"NEM","year":2018,"month":8,"chl":0.40,"group":"Control","type":"Value"},
{"site":"NEM","year":2018,"month":8,"chl":0.15,"group":"Control","type":"Value"},
{"site":"NEM","year":2018,"month":9,"chl":0.35,"group":"Control","type":"Value"},
{"site":"NEM","year":2018,"month":9,"chl":0.25,"group":"Control","type":"Value"},
{"site":"NEM","year":2018,"month":11,"chl":0.55,"group":"Control","type":"Value"},
{"site":"NEM","year":2019,"month":3,"chl":0.75,"group":"Control","type":"Value"},
{"site":"NEM","year":2019,"month":3,"chl":0.60,"group":"Control","type":"Value"},
{"site":"NEM","year":2019,"month":5,"chl":0.55,"group":"Control","type":"Value"},
{"site":"NEM","year":2019,"month":7,"chl":0.55,"group":"Control","type":"Value"},
{"site":"NEM","year":2019,"month":7,"chl":0.40,"group":"Control","type":"Value"},
{"site":"NEM","year":2019,"month":8,"chl":0.90,"group":"Impact","type":"Value"},
{"site":"NEM","year":2019,"month":9,"chl":1.00,"group":"Impact","type":"Value"},
{"site":"NEM","year":2019,"month":9,"chl":0.85,"group":"Impact","type":"Value"},
{"site":"NEM","year":2020,"month":3,"chl":0.70,"group":"Impact","type":"Value"},
{"site":"NEM","year":2020,"month":3,"chl":0.30,"group":"Impact","type":"Value"},
{"site":"NEM","year":2020,"month":5,"chl":2.10,"group":"Impact","type":"Value"},
{"site":"NEM","year":2020,"month":5,"chl":1.15,"group":"Impact","type":"Value"},
{"site":"NEM","year":2020,"month":7,"chl":1.55,"group":"Impact","type":"Value"},
{"site":"NEM","year":2020,"month":7,"chl":1.05,"group":"Impact","type":"Value"},
{"site":"NEM","year":2020,"month":8,"chl":0.95,"group":"Impact","type":"Value"},
{"site":"NEM","year":2020,"month":8,"chl":0.85,"group":"Impact","type":"Value"},
{"site":"NEM","year":2020,"month":9,"chl":0.85,"group":"Impact","type":"Value"},
{"site":"NEM","year":2020,"month":9,"chl":0.75,"group":"Impact","type":"Value"},
{"site":"NEM","year":2021,"month":3,"chl":1.00,"group":"Impact","type":"Value"},
{"site":"NEM","year":2021,"month":5,"chl":0.65,"group":"Impact","type":"Value"},
{"site":"NEM","year":2021,"month":5,"chl":0.55,"group":"Impact","type":"Value"},
{"site":"NEM","year":2021,"month":7,"chl":0.50,"group":"Impact","type":"Value"},
{"site":"NEM","year":2021,"month":8,"chl":0.40,"group":"Impact","type":"Value"},
{"site":"NEM","year":2021,"month":8,"chl":0.25,"group":"Impact","type":"Value"},
{"site":"NEM","year":2021,"month":9,"chl":1.40,"group":"Impact","type":"Value"},
{"site":"NEM","year":2021,"month":9,"chl":1.25,"group":"Impact","type":"Value"},
{"site":"NEM","year":2022,"month":3,"chl":0.05,"group":"Impact","type":"MDL"},
{"site":"NEM","year":2022,"month":5,"chl":2.20,"group":"Impact","type":"Value"},
{"site":"NEM","year":2022,"month":5,"chl":1.45,"group":"Impact","type":"Value"},
{"site":"NEM","year":2022,"month":7,"chl":0.65,"group":"Impact","type":"Value"},
{"site":"NEM","year":2022,"month":8,"chl":0.75,"group":"Impact","type":"Value"},
{"site":"NEM","year":2022,"month":8,"chl":0.45,"group":"Impact","type":"Value"},
{"site":"NEM","year":2022,"month":9,"chl":0.65,"group":"Impact","type":"Value"},
{"site":"NEM","year":2022,"month":9,"chl":0.60,"group":"Impact","type":"Value"}
]
},
"hconcat": [
{"vconcat": [
  {"data": {"values": [{"label": "2014"}]}, "width": 97, "height": 49, "view": {"fill": "#D9D9D9", "stroke": null}, "mark": {"type": "text", "fontSize": 27, "color": "#1A1A1A"}, "encoding": {"text": {"field": "label", "type": "nominal"}}},
  {"data": {"name": "chl"},
   "transform": [{"impute": "chl", "key": "site", "keyvals": ["INUG","PDL","WTS","A20","MAM","A76","DS1","NEM"], "groupby": ["year"], "value": null}, {"filter": "datum.year == 2014"}],
   "facet": {"row": {"field": "site", "type": "nominal", "sort": ["INUG","PDL","WTS","A20","MAM","A76","DS1","NEM"], "title": "Chlorophyll a (ug/L)", "header": {"labels": false, "titleFontSize": 30, "titleFontWeight": "normal", "titleColor": "black", "titlePadding": 15}}},
   "spacing": 12, "bounds": "flush",
   "spec": {"width": 97, "height": 156,
     "encoding": {"x": {"field": "month", "type": "ordinal", "scale": {"type": "point", "domain": [7,8,9,10,11,12], "padding": 0.6}, "axis": {"title": null, "grid": true, "labelExpr": "['','Jan','Feb','Mar','Apr','May','Jun','Jul','Aug','Sep','Oct','Nov','Dec'][datum.value]", "labelAngle": 270, "labelOverlap": false}}},
     "layer": [
       {"mark": {"type": "line", "color": "black", "strokeWidth": 2, "strokeDash": [7, 6], "invalid": "filter"}, "encoding": {"y": {"aggregate": "mean", "field": "chl", "type": "quantitative", "scale": {"domain": [-0.33, 7.59], "nice": false, "zero": false}, "axis": {"title": null, "values": [0,1,2,3,4,5,6,7], "labelExpr": "datum.value % 2 == 0 ? datum.label : ''", "tickOpacity": {"condition": {"test": "datum.value % 2 == 1", "value": 0}, "value": 1}, "gridWidth": {"condition": {"test": "datum.value % 2 == 1", "value": 0.75}, "value": 1.5}}}}},
       {"mark": {"type": "point", "filled": true, "size": 100, "stroke": "black", "strokeWidth": 1, "opacity": 1, "invalid": "filter"}, "encoding": {"y": {"field": "chl", "type": "quantitative"}, "fill": {"field": "group", "type": "nominal", "scale": {"domain": ["Control","Impact"], "range": ["#00FF00","#FFA500"]}, "legend": {"title": null, "orient": "none", "legendX": 579, "legendY": -36, "symbolType": "circle", "labelOffset": 23}}, "shape": {"field": "type", "type": "nominal", "scale": {"domain": ["Value","MDL"], "range": ["circle","M0,-1.25L1.35,1L-1.35,1Z"]}, "legend": {"title": null, "orient": "none", "legendX": 318, "legendY": -36, "symbolFillColor": "white", "symbolSize": 70, "encode": {"symbols": {"enter": {"fillOpacity": {"value": 0}}, "update": {"fill": {"value": "white"}, "fillOpacity": {"value": 0}, "stroke": {"value": "black"}, "strokeWidth": {"value": 1}}}}}}}}
     ]}}
 ], "spacing": 0, "bounds": "flush"},
{"vconcat": [
  {"data": {"values": [{"label": "2015"}]}, "width": 113, "height": 49, "view": {"fill": "#D9D9D9", "stroke": null}, "mark": {"type": "text", "fontSize": 27, "color": "#1A1A1A"}, "encoding": {"text": {"field": "label", "type": "nominal"}}},
  {"data": {"name": "chl"},
   "transform": [{"impute": "chl", "key": "site", "keyvals": ["INUG","PDL","WTS","A20","MAM","A76","DS1","NEM"], "groupby": ["year"], "value": null}, {"filter": "datum.year == 2015"}],
   "facet": {"row": {"field": "site", "type": "nominal", "sort": ["INUG","PDL","WTS","A20","MAM","A76","DS1","NEM"], "header": null}},
   "spacing": 12, "bounds": "flush",
   "spec": {"width": 113, "height": 156,
     "encoding": {"x": {"field": "month", "type": "ordinal", "scale": {"type": "point", "domain": [5,6,7,8,9,10,11], "padding": 0.6}, "axis": {"title": null, "grid": true, "labelExpr": "['','Jan','Feb','Mar','Apr','May','Jun','Jul','Aug','Sep','Oct','Nov','Dec'][datum.value]", "labelAngle": 270, "labelOverlap": false}}},
     "layer": [
       {"mark": {"type": "line", "color": "black", "strokeWidth": 2, "strokeDash": [7, 6], "invalid": "filter"}, "encoding": {"y": {"aggregate": "mean", "field": "chl", "type": "quantitative", "scale": {"domain": [-0.33, 7.59], "nice": false, "zero": false}, "axis": {"title": null, "values": [0,1,2,3,4,5,6,7], "labels": false, "ticks": false, "gridWidth": {"condition": {"test": "datum.value % 2 == 1", "value": 0.75}, "value": 1.5}}}}},
       {"mark": {"type": "point", "filled": true, "size": 100, "stroke": "black", "strokeWidth": 1, "opacity": 1, "invalid": "filter"}, "encoding": {"y": {"field": "chl", "type": "quantitative"}, "fill": {"field": "group", "type": "nominal", "scale": {"domain": ["Control","Impact"], "range": ["#00FF00","#FFA500"]}, "legend": {"title": null, "orient": "none", "legendX": 579, "legendY": -36, "symbolType": "circle", "labelOffset": 23}}, "shape": {"field": "type", "type": "nominal", "scale": {"domain": ["Value","MDL"], "range": ["circle","M0,-1.25L1.35,1L-1.35,1Z"]}, "legend": {"title": null, "orient": "none", "legendX": 318, "legendY": -36, "symbolFillColor": "white", "symbolSize": 70, "encode": {"symbols": {"enter": {"fillOpacity": {"value": 0}}, "update": {"fill": {"value": "white"}, "fillOpacity": {"value": 0}, "stroke": {"value": "black"}, "strokeWidth": {"value": 1}}}}}}}}
     ]}}
 ], "spacing": 0, "bounds": "flush"},
{"vconcat": [
  {"data": {"values": [{"label": "2016"}]}, "width": 129, "height": 49, "view": {"fill": "#D9D9D9", "stroke": null}, "mark": {"type": "text", "fontSize": 27, "color": "#1A1A1A"}, "encoding": {"text": {"field": "label", "type": "nominal"}}},
  {"data": {"name": "chl"},
   "transform": [{"impute": "chl", "key": "site", "keyvals": ["INUG","PDL","WTS","A20","MAM","A76","DS1","NEM"], "groupby": ["year"], "value": null}, {"filter": "datum.year == 2016"}],
   "facet": {"row": {"field": "site", "type": "nominal", "sort": ["INUG","PDL","WTS","A20","MAM","A76","DS1","NEM"], "header": null}},
   "spacing": 12, "bounds": "flush",
   "spec": {"width": 129, "height": 156,
     "encoding": {"x": {"field": "month", "type": "ordinal", "scale": {"type": "point", "domain": [4,5,6,7,8,9,10,11], "padding": 0.6}, "axis": {"title": null, "grid": true, "labelExpr": "['','Jan','Feb','Mar','Apr','May','Jun','Jul','Aug','Sep','Oct','Nov','Dec'][datum.value]", "labelAngle": 270, "labelOverlap": false}}},
     "layer": [
       {"mark": {"type": "line", "color": "black", "strokeWidth": 2, "strokeDash": [7, 6], "invalid": "filter"}, "encoding": {"y": {"aggregate": "mean", "field": "chl", "type": "quantitative", "scale": {"domain": [-0.33, 7.59], "nice": false, "zero": false}, "axis": {"title": null, "values": [0,1,2,3,4,5,6,7], "labels": false, "ticks": false, "gridWidth": {"condition": {"test": "datum.value % 2 == 1", "value": 0.75}, "value": 1.5}}}}},
       {"mark": {"type": "point", "filled": true, "size": 100, "stroke": "black", "strokeWidth": 1, "opacity": 1, "invalid": "filter"}, "encoding": {"y": {"field": "chl", "type": "quantitative"}, "fill": {"field": "group", "type": "nominal", "scale": {"domain": ["Control","Impact"], "range": ["#00FF00","#FFA500"]}, "legend": {"title": null, "orient": "none", "legendX": 579, "legendY": -36, "symbolType": "circle", "labelOffset": 23}}, "shape": {"field": "type", "type": "nominal", "scale": {"domain": ["Value","MDL"], "range": ["circle","M0,-1.25L1.35,1L-1.35,1Z"]}, "legend": {"title": null, "orient": "none", "legendX": 318, "legendY": -36, "symbolFillColor": "white", "symbolSize": 70, "encode": {"symbols": {"enter": {"fillOpacity": {"value": 0}}, "update": {"fill": {"value": "white"}, "fillOpacity": {"value": 0}, "stroke": {"value": "black"}, "strokeWidth": {"value": 1}}}}}}}}
     ]}}
 ], "spacing": 0, "bounds": "flush"},
{"vconcat": [
  {"data": {"values": [{"label": "2017"}]}, "width": 144, "height": 49, "view": {"fill": "#D9D9D9", "stroke": null}, "mark": {"type": "text", "fontSize": 27, "color": "#1A1A1A"}, "encoding": {"text": {"field": "label", "type": "nominal"}}},
  {"data": {"name": "chl"},
   "transform": [{"impute": "chl", "key": "site", "keyvals": ["INUG","PDL","WTS","A20","MAM","A76","DS1","NEM"], "groupby": ["year"], "value": null}, {"filter": "datum.year == 2017"}],
   "facet": {"row": {"field": "site", "type": "nominal", "sort": ["INUG","PDL","WTS","A20","MAM","A76","DS1","NEM"], "header": null}},
   "spacing": 12, "bounds": "flush",
   "spec": {"width": 144, "height": 156,
     "encoding": {"x": {"field": "month", "type": "ordinal", "scale": {"type": "point", "domain": [3,4,5,6,7,8,9,10,11], "padding": 0.6}, "axis": {"title": null, "grid": true, "labelExpr": "['','Jan','Feb','Mar','Apr','May','Jun','Jul','Aug','Sep','Oct','Nov','Dec'][datum.value]", "labelAngle": 270, "labelOverlap": false}}},
     "layer": [
       {"mark": {"type": "line", "color": "black", "strokeWidth": 2, "strokeDash": [7, 6], "invalid": "filter"}, "encoding": {"y": {"aggregate": "mean", "field": "chl", "type": "quantitative", "scale": {"domain": [-0.33, 7.59], "nice": false, "zero": false}, "axis": {"title": null, "values": [0,1,2,3,4,5,6,7], "labels": false, "ticks": false, "gridWidth": {"condition": {"test": "datum.value % 2 == 1", "value": 0.75}, "value": 1.5}}}}},
       {"mark": {"type": "point", "filled": true, "size": 100, "stroke": "black", "strokeWidth": 1, "opacity": 1, "invalid": "filter"}, "encoding": {"y": {"field": "chl", "type": "quantitative"}, "fill": {"field": "group", "type": "nominal", "scale": {"domain": ["Control","Impact"], "range": ["#00FF00","#FFA500"]}, "legend": {"title": null, "orient": "none", "legendX": 579, "legendY": -36, "symbolType": "circle", "labelOffset": 23}}, "shape": {"field": "type", "type": "nominal", "scale": {"domain": ["Value","MDL"], "range": ["circle","M0,-1.25L1.35,1L-1.35,1Z"]}, "legend": {"title": null, "orient": "none", "legendX": 318, "legendY": -36, "symbolFillColor": "white", "symbolSize": 70, "encode": {"symbols": {"enter": {"fillOpacity": {"value": 0}}, "update": {"fill": {"value": "white"}, "fillOpacity": {"value": 0}, "stroke": {"value": "black"}, "strokeWidth": {"value": 1}}}}}}}}
     ]}}
 ], "spacing": 0, "bounds": "flush"},
{"vconcat": [
  {"data": {"values": [{"label": "2018"}]}, "width": 113, "height": 49, "view": {"fill": "#D9D9D9", "stroke": null}, "mark": {"type": "text", "fontSize": 27, "color": "#1A1A1A"}, "encoding": {"text": {"field": "label", "type": "nominal"}}},
  {"data": {"name": "chl"},
   "transform": [{"impute": "chl", "key": "site", "keyvals": ["INUG","PDL","WTS","A20","MAM","A76","DS1","NEM"], "groupby": ["year"], "value": null}, {"filter": "datum.year == 2018"}],
   "facet": {"row": {"field": "site", "type": "nominal", "sort": ["INUG","PDL","WTS","A20","MAM","A76","DS1","NEM"], "header": null}},
   "spacing": 12, "bounds": "flush",
   "spec": {"width": 113, "height": 156,
     "encoding": {"x": {"field": "month", "type": "ordinal", "scale": {"type": "point", "domain": [5,6,7,8,9,10,11], "padding": 0.6}, "axis": {"title": "Month", "grid": true, "titleFontSize": 30, "titleFontWeight": "normal", "titleColor": "black", "titleX": 41, "titleAlign": "center", "titlePadding": 14, "labelExpr": "['','Jan','Feb','Mar','Apr','May','Jun','Jul','Aug','Sep','Oct','Nov','Dec'][datum.value]", "labelAngle": 270, "labelOverlap": false}}},
     "layer": [
       {"mark": {"type": "line", "color": "black", "strokeWidth": 2, "strokeDash": [7, 6], "invalid": "filter"}, "encoding": {"y": {"aggregate": "mean", "field": "chl", "type": "quantitative", "scale": {"domain": [-0.33, 7.59], "nice": false, "zero": false}, "axis": {"title": null, "values": [0,1,2,3,4,5,6,7], "labels": false, "ticks": false, "gridWidth": {"condition": {"test": "datum.value % 2 == 1", "value": 0.75}, "value": 1.5}}}}},
       {"mark": {"type": "point", "filled": true, "size": 100, "stroke": "black", "strokeWidth": 1, "opacity": 1, "invalid": "filter"}, "encoding": {"y": {"field": "chl", "type": "quantitative"}, "fill": {"field": "group", "type": "nominal", "scale": {"domain": ["Control","Impact"], "range": ["#00FF00","#FFA500"]}, "legend": {"title": null, "orient": "none", "legendX": 579, "legendY": -36, "symbolType": "circle", "labelOffset": 23}}, "shape": {"field": "type", "type": "nominal", "scale": {"domain": ["Value","MDL"], "range": ["circle","M0,-1.25L1.35,1L-1.35,1Z"]}, "legend": {"title": null, "orient": "none", "legendX": 318, "legendY": -36, "symbolFillColor": "white", "symbolSize": 70, "encode": {"symbols": {"enter": {"fillOpacity": {"value": 0}}, "update": {"fill": {"value": "white"}, "fillOpacity": {"value": 0}, "stroke": {"value": "black"}, "strokeWidth": {"value": 1}}}}}}}}
     ]}}
 ], "spacing": 0, "bounds": "flush"},
{"vconcat": [
  {"data": {"values": [{"label": "2019"}]}, "width": 113, "height": 49, "view": {"fill": "#D9D9D9", "stroke": null}, "mark": {"type": "text", "fontSize": 27, "color": "#1A1A1A"}, "encoding": {"text": {"field": "label", "type": "nominal"}}},
  {"data": {"name": "chl"},
   "transform": [{"impute": "chl", "key": "site", "keyvals": ["INUG","PDL","WTS","A20","MAM","A76","DS1","NEM"], "groupby": ["year"], "value": null}, {"filter": "datum.year == 2019"}],
   "facet": {"row": {"field": "site", "type": "nominal", "sort": ["INUG","PDL","WTS","A20","MAM","A76","DS1","NEM"], "header": null}},
   "spacing": 12, "bounds": "flush",
   "spec": {"width": 113, "height": 156,
     "encoding": {"x": {"field": "month", "type": "ordinal", "scale": {"type": "point", "domain": [3,4,5,6,7,8,9], "padding": 0.6}, "axis": {"title": null, "grid": true, "labelExpr": "['','Jan','Feb','Mar','Apr','May','Jun','Jul','Aug','Sep','Oct','Nov','Dec'][datum.value]", "labelAngle": 270, "labelOverlap": false}}},
     "layer": [
       {"mark": {"type": "line", "color": "black", "strokeWidth": 2, "strokeDash": [7, 6], "invalid": "filter"}, "encoding": {"y": {"aggregate": "mean", "field": "chl", "type": "quantitative", "scale": {"domain": [-0.33, 7.59], "nice": false, "zero": false}, "axis": {"title": null, "values": [0,1,2,3,4,5,6,7], "labels": false, "ticks": false, "gridWidth": {"condition": {"test": "datum.value % 2 == 1", "value": 0.75}, "value": 1.5}}}}},
       {"mark": {"type": "point", "filled": true, "size": 100, "stroke": "black", "strokeWidth": 1, "opacity": 1, "invalid": "filter"}, "encoding": {"y": {"field": "chl", "type": "quantitative"}, "fill": {"field": "group", "type": "nominal", "scale": {"domain": ["Control","Impact"], "range": ["#00FF00","#FFA500"]}, "legend": {"title": null, "orient": "none", "legendX": 579, "legendY": -36, "symbolType": "circle", "labelOffset": 23}}, "shape": {"field": "type", "type": "nominal", "scale": {"domain": ["Value","MDL"], "range": ["circle","M0,-1.25L1.35,1L-1.35,1Z"]}, "legend": {"title": null, "orient": "none", "legendX": 318, "legendY": -36, "symbolFillColor": "white", "symbolSize": 70, "encode": {"symbols": {"enter": {"fillOpacity": {"value": 0}}, "update": {"fill": {"value": "white"}, "fillOpacity": {"value": 0}, "stroke": {"value": "black"}, "strokeWidth": {"value": 1}}}}}}}}
     ]}}
 ], "spacing": 0, "bounds": "flush"},
{"vconcat": [
  {"data": {"values": [{"label": "2020"}]}, "width": 113, "height": 49, "view": {"fill": "#D9D9D9", "stroke": null}, "mark": {"type": "text", "fontSize": 27, "color": "#1A1A1A"}, "encoding": {"text": {"field": "label", "type": "nominal"}}},
  {"data": {"name": "chl"},
   "transform": [{"impute": "chl", "key": "site", "keyvals": ["INUG","PDL","WTS","A20","MAM","A76","DS1","NEM"], "groupby": ["year"], "value": null}, {"filter": "datum.year == 2020"}],
   "facet": {"row": {"field": "site", "type": "nominal", "sort": ["INUG","PDL","WTS","A20","MAM","A76","DS1","NEM"], "header": null}},
   "spacing": 12, "bounds": "flush",
   "spec": {"width": 113, "height": 156,
     "encoding": {"x": {"field": "month", "type": "ordinal", "scale": {"type": "point", "domain": [3,4,5,6,7,8,9], "padding": 0.6}, "axis": {"title": null, "grid": true, "labelExpr": "['','Jan','Feb','Mar','Apr','May','Jun','Jul','Aug','Sep','Oct','Nov','Dec'][datum.value]", "labelAngle": 270, "labelOverlap": false}}},
     "layer": [
       {"mark": {"type": "line", "color": "black", "strokeWidth": 2, "strokeDash": [7, 6], "invalid": "filter"}, "encoding": {"y": {"aggregate": "mean", "field": "chl", "type": "quantitative", "scale": {"domain": [-0.33, 7.59], "nice": false, "zero": false}, "axis": {"title": null, "values": [0,1,2,3,4,5,6,7], "labels": false, "ticks": false, "gridWidth": {"condition": {"test": "datum.value % 2 == 1", "value": 0.75}, "value": 1.5}}}}},
       {"mark": {"type": "point", "filled": true, "size": 100, "stroke": "black", "strokeWidth": 1, "opacity": 1, "invalid": "filter"}, "encoding": {"y": {"field": "chl", "type": "quantitative"}, "fill": {"field": "group", "type": "nominal", "scale": {"domain": ["Control","Impact"], "range": ["#00FF00","#FFA500"]}, "legend": {"title": null, "orient": "none", "legendX": 579, "legendY": -36, "symbolType": "circle", "labelOffset": 23}}, "shape": {"field": "type", "type": "nominal", "scale": {"domain": ["Value","MDL"], "range": ["circle","M0,-1.25L1.35,1L-1.35,1Z"]}, "legend": {"title": null, "orient": "none", "legendX": 318, "legendY": -36, "symbolFillColor": "white", "symbolSize": 70, "encode": {"symbols": {"enter": {"fillOpacity": {"value": 0}}, "update": {"fill": {"value": "white"}, "fillOpacity": {"value": 0}, "stroke": {"value": "black"}, "strokeWidth": {"value": 1}}}}}}}}
     ]}}
 ], "spacing": 0, "bounds": "flush"},
{"vconcat": [
  {"data": {"values": [{"label": "2021"}]}, "width": 113, "height": 49, "view": {"fill": "#D9D9D9", "stroke": null}, "mark": {"type": "text", "fontSize": 27, "color": "#1A1A1A"}, "encoding": {"text": {"field": "label", "type": "nominal"}}},
  {"data": {"name": "chl"},
   "transform": [{"impute": "chl", "key": "site", "keyvals": ["INUG","PDL","WTS","A20","MAM","A76","DS1","NEM"], "groupby": ["year"], "value": null}, {"filter": "datum.year == 2021"}],
   "facet": {"row": {"field": "site", "type": "nominal", "sort": ["INUG","PDL","WTS","A20","MAM","A76","DS1","NEM"], "header": null}},
   "spacing": 12, "bounds": "flush",
   "spec": {"width": 113, "height": 156,
     "encoding": {"x": {"field": "month", "type": "ordinal", "scale": {"type": "point", "domain": [3,4,5,6,7,8,9], "padding": 0.6}, "axis": {"title": null, "grid": true, "labelExpr": "['','Jan','Feb','Mar','Apr','May','Jun','Jul','Aug','Sep','Oct','Nov','Dec'][datum.value]", "labelAngle": 270, "labelOverlap": false}}},
     "layer": [
       {"mark": {"type": "line", "color": "black", "strokeWidth": 2, "strokeDash": [7, 6], "invalid": "filter"}, "encoding": {"y": {"aggregate": "mean", "field": "chl", "type": "quantitative", "scale": {"domain": [-0.33, 7.59], "nice": false, "zero": false}, "axis": {"title": null, "values": [0,1,2,3,4,5,6,7], "labels": false, "ticks": false, "gridWidth": {"condition": {"test": "datum.value % 2 == 1", "value": 0.75}, "value": 1.5}}}}},
       {"mark": {"type": "point", "filled": true, "size": 100, "stroke": "black", "strokeWidth": 1, "opacity": 1, "invalid": "filter"}, "encoding": {"y": {"field": "chl", "type": "quantitative"}, "fill": {"field": "group", "type": "nominal", "scale": {"domain": ["Control","Impact"], "range": ["#00FF00","#FFA500"]}, "legend": {"title": null, "orient": "none", "legendX": 579, "legendY": -36, "symbolType": "circle", "labelOffset": 23}}, "shape": {"field": "type", "type": "nominal", "scale": {"domain": ["Value","MDL"], "range": ["circle","M0,-1.25L1.35,1L-1.35,1Z"]}, "legend": {"title": null, "orient": "none", "legendX": 318, "legendY": -36, "symbolFillColor": "white", "symbolSize": 70, "encode": {"symbols": {"enter": {"fillOpacity": {"value": 0}}, "update": {"fill": {"value": "white"}, "fillOpacity": {"value": 0}, "stroke": {"value": "black"}, "strokeWidth": {"value": 1}}}}}}}}
     ]}}
 ], "spacing": 0, "bounds": "flush"},
{"hconcat": [
 {"vconcat": [
  {"data": {"values": [{"label": "2022"}]}, "width": 113, "height": 49, "view": {"fill": "#D9D9D9", "stroke": null}, "mark": {"type": "text", "fontSize": 27, "color": "#1A1A1A"}, "encoding": {"text": {"field": "label", "type": "nominal"}}},
  {"data": {"name": "chl"},
   "transform": [{"impute": "chl", "key": "site", "keyvals": ["INUG","PDL","WTS","A20","MAM","A76","DS1","NEM"], "groupby": ["year"], "value": null}, {"filter": "datum.year == 2022"}],
   "facet": {"row": {"field": "site", "type": "nominal", "sort": ["INUG","PDL","WTS","A20","MAM","A76","DS1","NEM"], "header": null}},
   "spacing": 12, "bounds": "flush",
   "spec": {"width": 113, "height": 156,
     "encoding": {"x": {"field": "month", "type": "ordinal", "scale": {"type": "point", "domain": [3,4,5,6,7,8,9], "padding": 0.6}, "axis": {"title": null, "grid": true, "labelExpr": "['','Jan','Feb','Mar','Apr','May','Jun','Jul','Aug','Sep','Oct','Nov','Dec'][datum.value]", "labelAngle": 270, "labelOverlap": false}}},
     "layer": [
       {"mark": {"type": "line", "color": "black", "strokeWidth": 2, "strokeDash": [7, 6], "invalid": "filter"}, "encoding": {"y": {"aggregate": "mean", "field": "chl", "type": "quantitative", "scale": {"domain": [-0.33, 7.59], "nice": false, "zero": false}, "axis": {"title": null, "values": [0,1,2,3,4,5,6,7], "labels": false, "ticks": false, "gridWidth": {"condition": {"test": "datum.value % 2 == 1", "value": 0.75}, "value": 1.5}}}}},
       {"mark": {"type": "point", "filled": true, "size": 100, "stroke": "black", "strokeWidth": 1, "opacity": 1, "invalid": "filter"}, "encoding": {"y": {"field": "chl", "type": "quantitative"}, "fill": {"field": "group", "type": "nominal", "scale": {"domain": ["Control","Impact"], "range": ["#00FF00","#FFA500"]}, "legend": {"title": null, "orient": "none", "legendX": 579, "legendY": -36, "symbolType": "circle", "labelOffset": 23}}, "shape": {"field": "type", "type": "nominal", "scale": {"domain": ["Value","MDL"], "range": ["circle","M0,-1.25L1.35,1L-1.35,1Z"]}, "legend": {"title": null, "orient": "none", "legendX": 318, "legendY": -36, "symbolFillColor": "white", "symbolSize": 70, "encode": {"symbols": {"enter": {"fillOpacity": {"value": 0}}, "update": {"fill": {"value": "white"}, "fillOpacity": {"value": 0}, "stroke": {"value": "black"}, "strokeWidth": {"value": 1}}}}}}}}
     ]}}
 ], "spacing": 0, "bounds": "flush"},
 {"vconcat": [
  {"data": {"values": [{"label": ""}]}, "width": 48, "height": 49, "view": {"fill": "white", "stroke": null}, "mark": {"type": "text"}, "encoding": {"text": {"field": "label", "type": "nominal"}}},
  {"data": {"name": "sites"},
   "facet": {"row": {"field": "site", "type": "nominal", "sort": ["INUG","PDL","WTS","A20","MAM","A76","DS1","NEM"], "header": null}},
   "spacing": 12, "bounds": "flush",
   "spec": {"width": 48, "height": 156, "view": {"fill": "#D9D9D9", "stroke": null}, "mark": {"type": "text", "angle": 90, "fontSize": 27, "color": "#1A1A1A"}, "encoding": {"text": {"field": "site", "type": "nominal"}}}}
 ], "spacing": 0, "bounds": "flush"}
], "spacing": 0, "bounds": "full"}
],
"spacing": 8,
"bounds": "full",
"resolve": {"scale": {"x": "independent"}}
}
